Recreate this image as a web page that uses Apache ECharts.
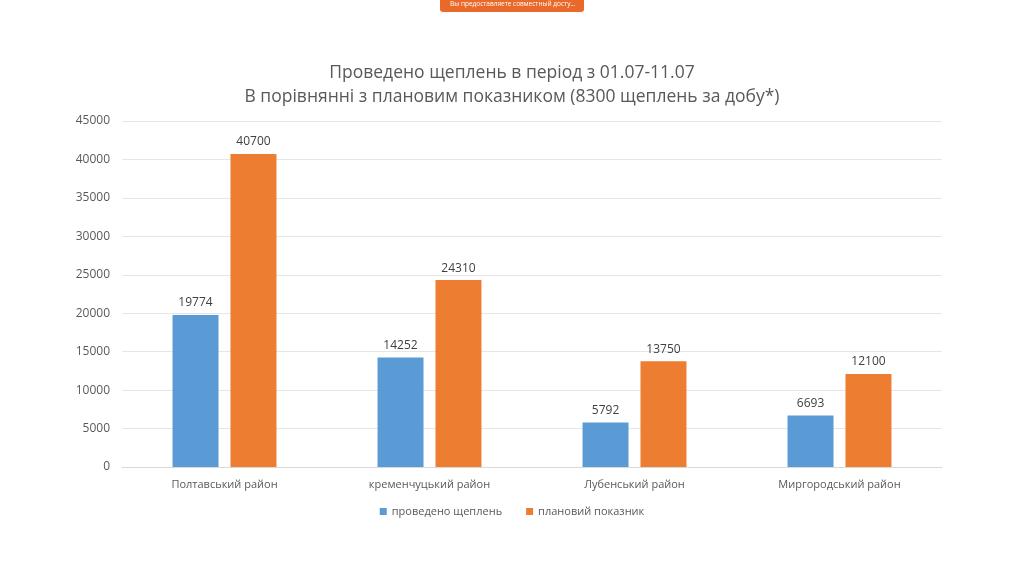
<!DOCTYPE html>
<html><head><meta charset="utf-8">
<script src="https://cdn.jsdelivr.net/npm/echarts@6/dist/echarts.min.js"></script>
<style>html,body{margin:0;padding:0;background:#fff}#c{width:1024px;height:576px}</style>
</head><body><div id="c"></div>
<script>
const categories = ['Полтавський район', 'кременчуцький район', 'Лубенський район', 'Миргородський район'];
const doneValues = [19774, 14252, 5792, 6693];
const planValues = [40700, 24310, 13750, 12100];
const seriesNames = ['проведено щеплень', 'плановий показник'];
const titleLines = ['Проведено щеплень в період з 01.07-11.07', 'В порівнянні з плановим показником (8300 щеплень за добу*)'];

const FONT = 'Open Sans';
const chart = echarts.init(document.getElementById('c'));
chart.setOption({
  backgroundColor: '#fff',
  animation: false,
  textStyle: {fontFamily: FONT},
  title: {
    text: titleLines.join('\n'), left: 'center', top: 56,
    textStyle: {fontFamily: FONT, fontSize: 17.5, fontWeight: 'normal', color: '#595959', lineHeight: 24}
  },
  legend: {
    data: seriesNames, bottom: 54, left: 'center', itemWidth: 7, itemHeight: 7, itemGap: 24,
    icon: 'rect', textStyle: {fontFamily: FONT, fontSize: 11, color: '#595959'}
  },
  grid: {left: 122, right: 82, top: 121, bottom: 109, containLabel: false},
  xAxis: {
    type: 'category', data: categories,
    axisLine: {show: true, lineStyle: {color: '#d9d9d9'}},
    axisTick: {show: false},
    axisLabel: {fontFamily: FONT, fontSize: 11, color: '#595959', margin: 12}
  },
  yAxis: {
    type: 'value', min: 0, max: 45000, interval: 5000,
    axisLine: {show: false}, axisTick: {show: false},
    splitLine: {lineStyle: {color: '#e6e6e6'}},
    axisLabel: {fontFamily: FONT, fontSize: 12, color: '#595959', margin: 12, formatter: v => String(v)}
  },
  series: [
    {name: seriesNames[0], type: 'bar', data: doneValues, barWidth: 46, barGap: '26%',
     itemStyle: {color: '#5b9bd5'},
     label: {show: true, position: 'top', distance: 6, fontFamily: FONT, fontSize: 12, color: '#404040'}},
    {name: seriesNames[1], type: 'bar', data: planValues, barWidth: 46,
     itemStyle: {color: '#ed7d31'},
     label: {show: true, position: 'top', distance: 6, fontFamily: FONT, fontSize: 12, color: '#404040'}}
  ],
  graphic: [
    {type: 'rect', shape: {x: 440, y: -4, width: 144, height: 16, r: 3}, style: {fill: '#e8692a'}},
    {type: 'text', left: 450, top: 1, style: {text: 'Вы предоставляете совместный досту...', fill: '#fff', font: '6.5px "Open Sans"'}}
  ]
});
</script></body></html>
